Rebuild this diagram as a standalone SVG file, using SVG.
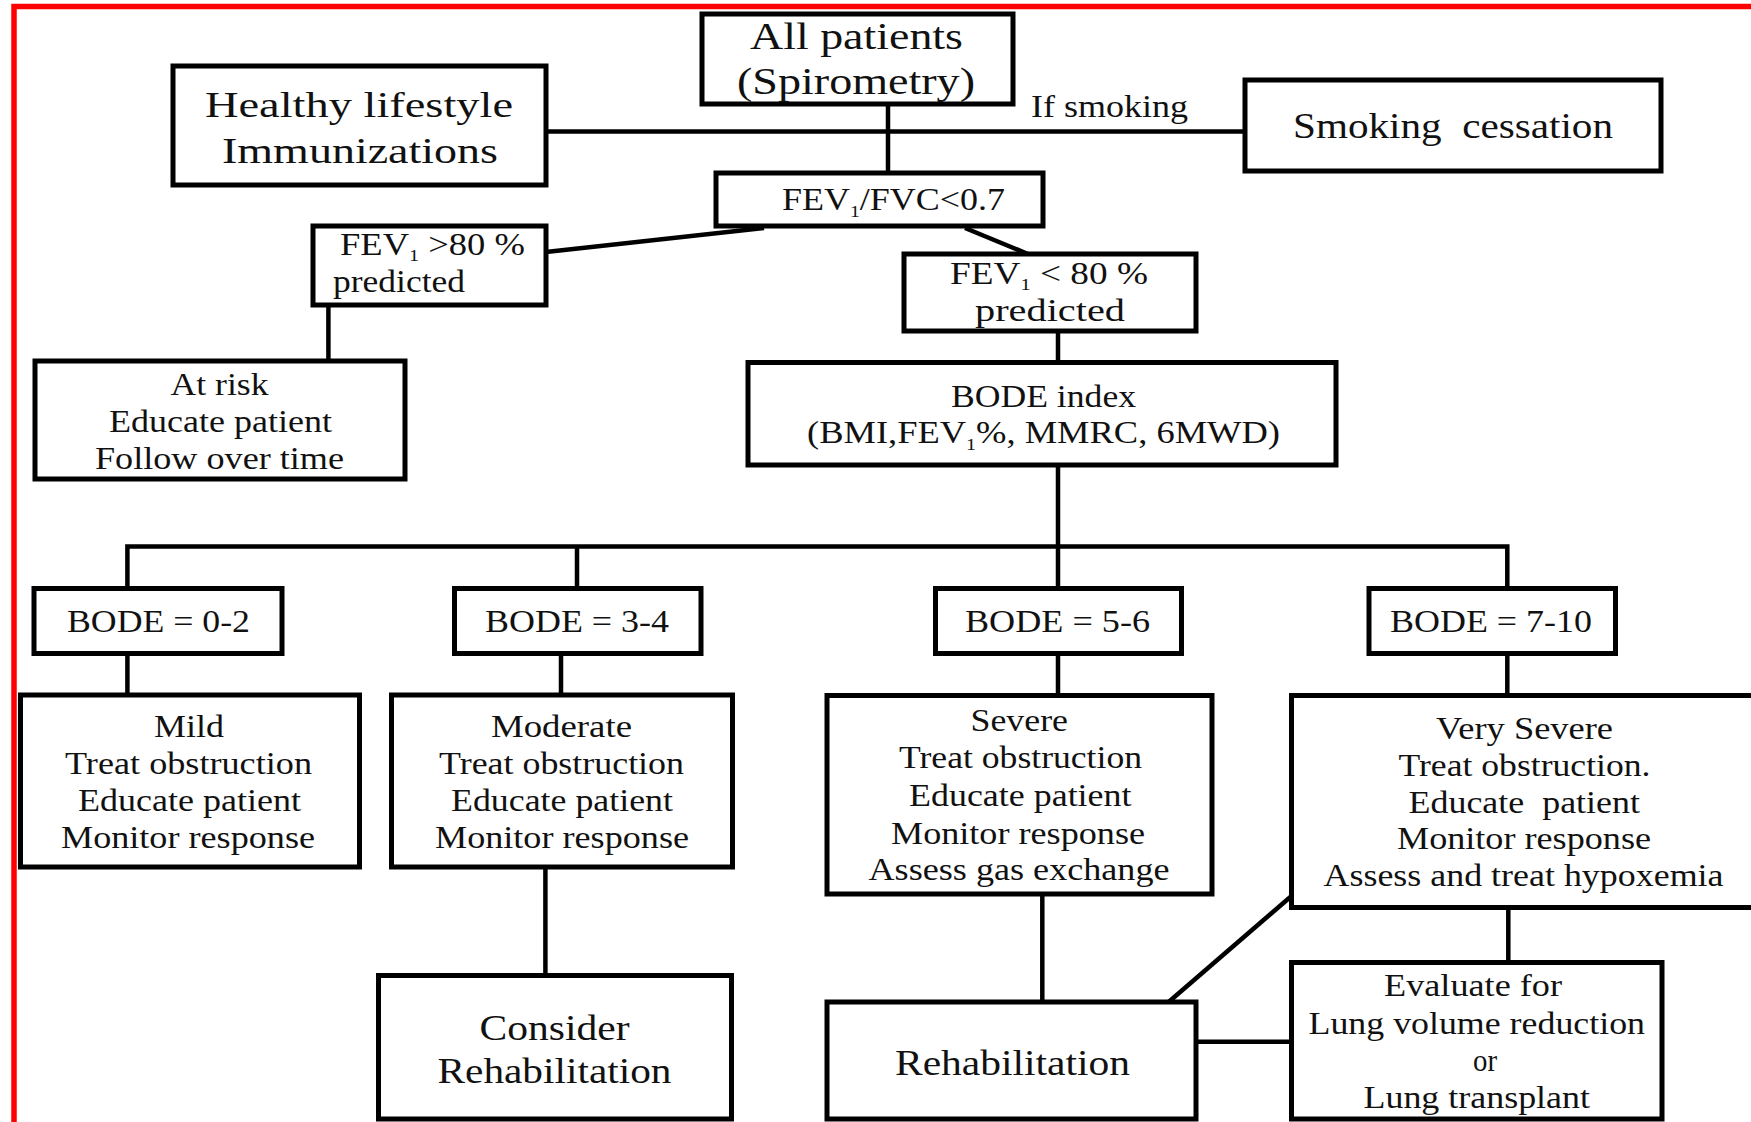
<svg xmlns="http://www.w3.org/2000/svg" width="1751" height="1122" viewBox="0 0 1751 1122">
<style>
.box{fill:#fff;stroke:#000;stroke-width:5}
.c{fill:none;stroke:#000;stroke-width:4.5}
text{font-family:"Liberation Serif","Times New Roman",serif;fill:#111;white-space:pre}
.f32{font-size:32px}
.f31{font-size:31px}
.f35{font-size:35px}
.f38{font-size:38px}
.sub{font-size:17px}
</style>
<rect width="1751" height="1122" fill="#fff"/>
<path d="M14 1122V6.5H1751" fill="none" stroke="#f00" stroke-width="5.5"/>

<g id="connectors">
<path class="c" d="M546 131.5H1245"/>
<path class="c" d="M888 104V173"/>
<path class="c" d="M764 228L546 252" stroke-width="5.5"/>
<path class="c" d="M965 228L1028 254"/>
<path class="c" d="M328.4 305V361"/>
<path class="c" d="M1058 331V362.5"/>
<path class="c" d="M1058 465V588.5"/>
<path class="c" d="M127.4 588.5V546.5H1507.3V588.5"/>
<path class="c" d="M577 546.5V588.5"/>
<path class="c" d="M127.4 653.5V695"/>
<path class="c" d="M561 653.5V695"/>
<path class="c" d="M1058 653.5V695.5"/>
<path class="c" d="M1507.3 653.5V695.5"/>
<path class="c" d="M545.4 867V975.5"/>
<path class="c" d="M1042.3 894V1002"/>
<path class="c" d="M1508.3 907.5V962.5"/>
<path class="c" d="M1291.5 896L1168.6 1002" stroke-width="5.5"/>
<path class="c" d="M1196 1041.7H1291.5"/>
</g>

<text class="f31" x="1031" y="117" textLength="157" lengthAdjust="spacingAndGlyphs">If smoking</text>

<g id="n-all">
<rect class="box" x="702" y="14" width="311" height="90"/>
<text class="f38" x="750" y="49" textLength="213" lengthAdjust="spacingAndGlyphs">All patients</text>
<text class="f38" x="737" y="94" textLength="238" lengthAdjust="spacingAndGlyphs">(Spirometry)</text>
</g>

<g id="n-healthy">
<rect class="box" x="173" y="66" width="373" height="119"/>
<text class="f35" x="205" y="117" textLength="308" lengthAdjust="spacingAndGlyphs">Healthy lifestyle</text>
<text class="f35" x="222" y="163" textLength="276" lengthAdjust="spacingAndGlyphs">Immunizations</text>
</g>

<g id="n-smoking">
<rect class="box" x="1245" y="80" width="416" height="91"/>
<text class="f35" x="1293" y="138" textLength="320" lengthAdjust="spacingAndGlyphs">Smoking  cessation</text>
</g>

<g id="n-ratio">
<rect class="box" x="716" y="173" width="327" height="53"/>
<text class="f31" x="782" y="210" textLength="223" lengthAdjust="spacingAndGlyphs">FEV<tspan class="sub" dy="7">1</tspan><tspan dy="-7">/FVC&lt;0.7</tspan></text>
</g>

<g id="n-gt80">
<rect class="box" x="313" y="226" width="233" height="79"/>
<text class="f31" x="340" y="255" textLength="185" lengthAdjust="spacingAndGlyphs">FEV<tspan class="sub" dy="6">1</tspan><tspan dy="-6"> &gt;80 %</tspan></text>
<text class="f31" x="333" y="292" textLength="132" lengthAdjust="spacingAndGlyphs">predicted</text>
</g>

<g id="n-lt80">
<rect class="box" x="904" y="254" width="292" height="77"/>
<text class="f31" x="950" y="284" textLength="198" lengthAdjust="spacingAndGlyphs">FEV<tspan class="sub" dy="6">1</tspan><tspan dy="-6"> &lt; 80 %</tspan></text>
<text class="f31" x="975" y="321" textLength="150" lengthAdjust="spacingAndGlyphs">predicted</text>
</g>

<g id="n-atrisk">
<rect class="box" x="35" y="361" width="370" height="118"/>
<text class="f32" x="170.5" y="395" textLength="98" lengthAdjust="spacingAndGlyphs">At risk</text>
<text class="f32" x="109" y="432" textLength="223" lengthAdjust="spacingAndGlyphs">Educate patient</text>
<text class="f32" x="95" y="469" textLength="249" lengthAdjust="spacingAndGlyphs">Follow over time</text>
</g>

<g id="n-bode">
<rect class="box" x="748" y="362.5" width="588" height="102.5"/>
<text class="f31" x="951" y="407" textLength="185" lengthAdjust="spacingAndGlyphs">BODE index</text>
<text class="f31" x="807" y="442.5" textLength="473" lengthAdjust="spacingAndGlyphs">(BMI,FEV<tspan class="sub" dy="7">1</tspan><tspan dy="-7">%, MMRC, 6MWD)</tspan></text>
</g>

<g id="n-b02">
<rect class="box" x="34" y="588.5" width="248" height="65"/>
<text class="f31" x="67" y="632" textLength="183" lengthAdjust="spacingAndGlyphs">BODE = 0-2</text>
</g>
<g id="n-b34">
<rect class="box" x="454.5" y="588.5" width="246.5" height="65"/>
<text class="f31" x="485" y="632" textLength="184" lengthAdjust="spacingAndGlyphs">BODE = 3-4</text>
</g>
<g id="n-b56">
<rect class="box" x="935.5" y="588.5" width="246" height="65"/>
<text class="f31" x="965" y="632" textLength="185" lengthAdjust="spacingAndGlyphs">BODE = 5-6</text>
</g>
<g id="n-b710">
<rect class="box" x="1369" y="588.5" width="246.5" height="65"/>
<text class="f31" x="1390" y="632" textLength="202" lengthAdjust="spacingAndGlyphs">BODE = 7-10</text>
</g>

<g id="n-mild">
<rect class="box" x="20.5" y="695" width="339" height="172"/>
<text class="f32" x="154" y="737" textLength="70" lengthAdjust="spacingAndGlyphs">Mild</text>
<text class="f32" x="65" y="773.5" textLength="247" lengthAdjust="spacingAndGlyphs">Treat obstruction</text>
<text class="f32" x="78" y="811" textLength="223" lengthAdjust="spacingAndGlyphs">Educate patient</text>
<text class="f32" x="61" y="848" textLength="254" lengthAdjust="spacingAndGlyphs">Monitor response</text>
</g>

<g id="n-moderate">
<rect class="box" x="391.5" y="695" width="341" height="172"/>
<text class="f32" x="491" y="737" textLength="141" lengthAdjust="spacingAndGlyphs">Moderate</text>
<text class="f32" x="439" y="773.5" textLength="245" lengthAdjust="spacingAndGlyphs">Treat obstruction</text>
<text class="f32" x="451" y="811" textLength="222" lengthAdjust="spacingAndGlyphs">Educate patient</text>
<text class="f32" x="435" y="848" textLength="254" lengthAdjust="spacingAndGlyphs">Monitor response</text>
</g>

<g id="n-severe">
<rect class="box" x="827" y="695.5" width="385" height="198.5"/>
<text class="f32" x="970.5" y="731" textLength="97.5" lengthAdjust="spacingAndGlyphs">Severe</text>
<text class="f32" x="899" y="768" textLength="243" lengthAdjust="spacingAndGlyphs">Treat obstruction</text>
<text class="f32" x="909" y="806" textLength="222.5" lengthAdjust="spacingAndGlyphs">Educate patient</text>
<text class="f32" x="891" y="843.5" textLength="254" lengthAdjust="spacingAndGlyphs">Monitor response</text>
<text class="f32" x="868.5" y="880" textLength="301" lengthAdjust="spacingAndGlyphs">Assess gas exchange</text>
</g>

<g id="n-verysevere">
<rect class="box" x="1291.5" y="695.5" width="480" height="212"/>
<text class="f32" x="1436" y="739" textLength="177" lengthAdjust="spacingAndGlyphs">Very Severe</text>
<text class="f32" x="1398.5" y="776" textLength="252" lengthAdjust="spacingAndGlyphs">Treat obstruction.</text>
<text class="f32" x="1408.5" y="812.5" textLength="231.5" lengthAdjust="spacingAndGlyphs">Educate  patient</text>
<text class="f32" x="1397" y="849" textLength="254" lengthAdjust="spacingAndGlyphs">Monitor response</text>
<text class="f32" x="1323.5" y="886" textLength="400" lengthAdjust="spacingAndGlyphs">Assess and treat hypoxemia</text>
</g>

<g id="n-consider">
<rect class="box" x="378.5" y="975.5" width="353" height="143.5"/>
<text class="f35" x="479.5" y="1040" textLength="150" lengthAdjust="spacingAndGlyphs">Consider</text>
<text class="f35" x="437.5" y="1083" textLength="234" lengthAdjust="spacingAndGlyphs">Rehabilitation</text>
</g>

<g id="n-rehab">
<rect class="box" x="827" y="1002" width="369" height="117"/>
<text class="f35" x="895" y="1075" textLength="235" lengthAdjust="spacingAndGlyphs">Rehabilitation</text>
</g>

<g id="n-evaluate">
<rect class="box" x="1291.5" y="962.5" width="370.5" height="156.5"/>
<text class="f32" x="1384" y="996" textLength="178" lengthAdjust="spacingAndGlyphs">Evaluate for</text>
<text class="f32" x="1308.5" y="1034" textLength="336.5" lengthAdjust="spacingAndGlyphs">Lung volume reduction</text>
<text class="f32" x="1473" y="1071" textLength="24" lengthAdjust="spacingAndGlyphs">or</text>
<text class="f32" x="1363.5" y="1107.5" textLength="226.5" lengthAdjust="spacingAndGlyphs">Lung transplant</text>
</g>
</svg>
